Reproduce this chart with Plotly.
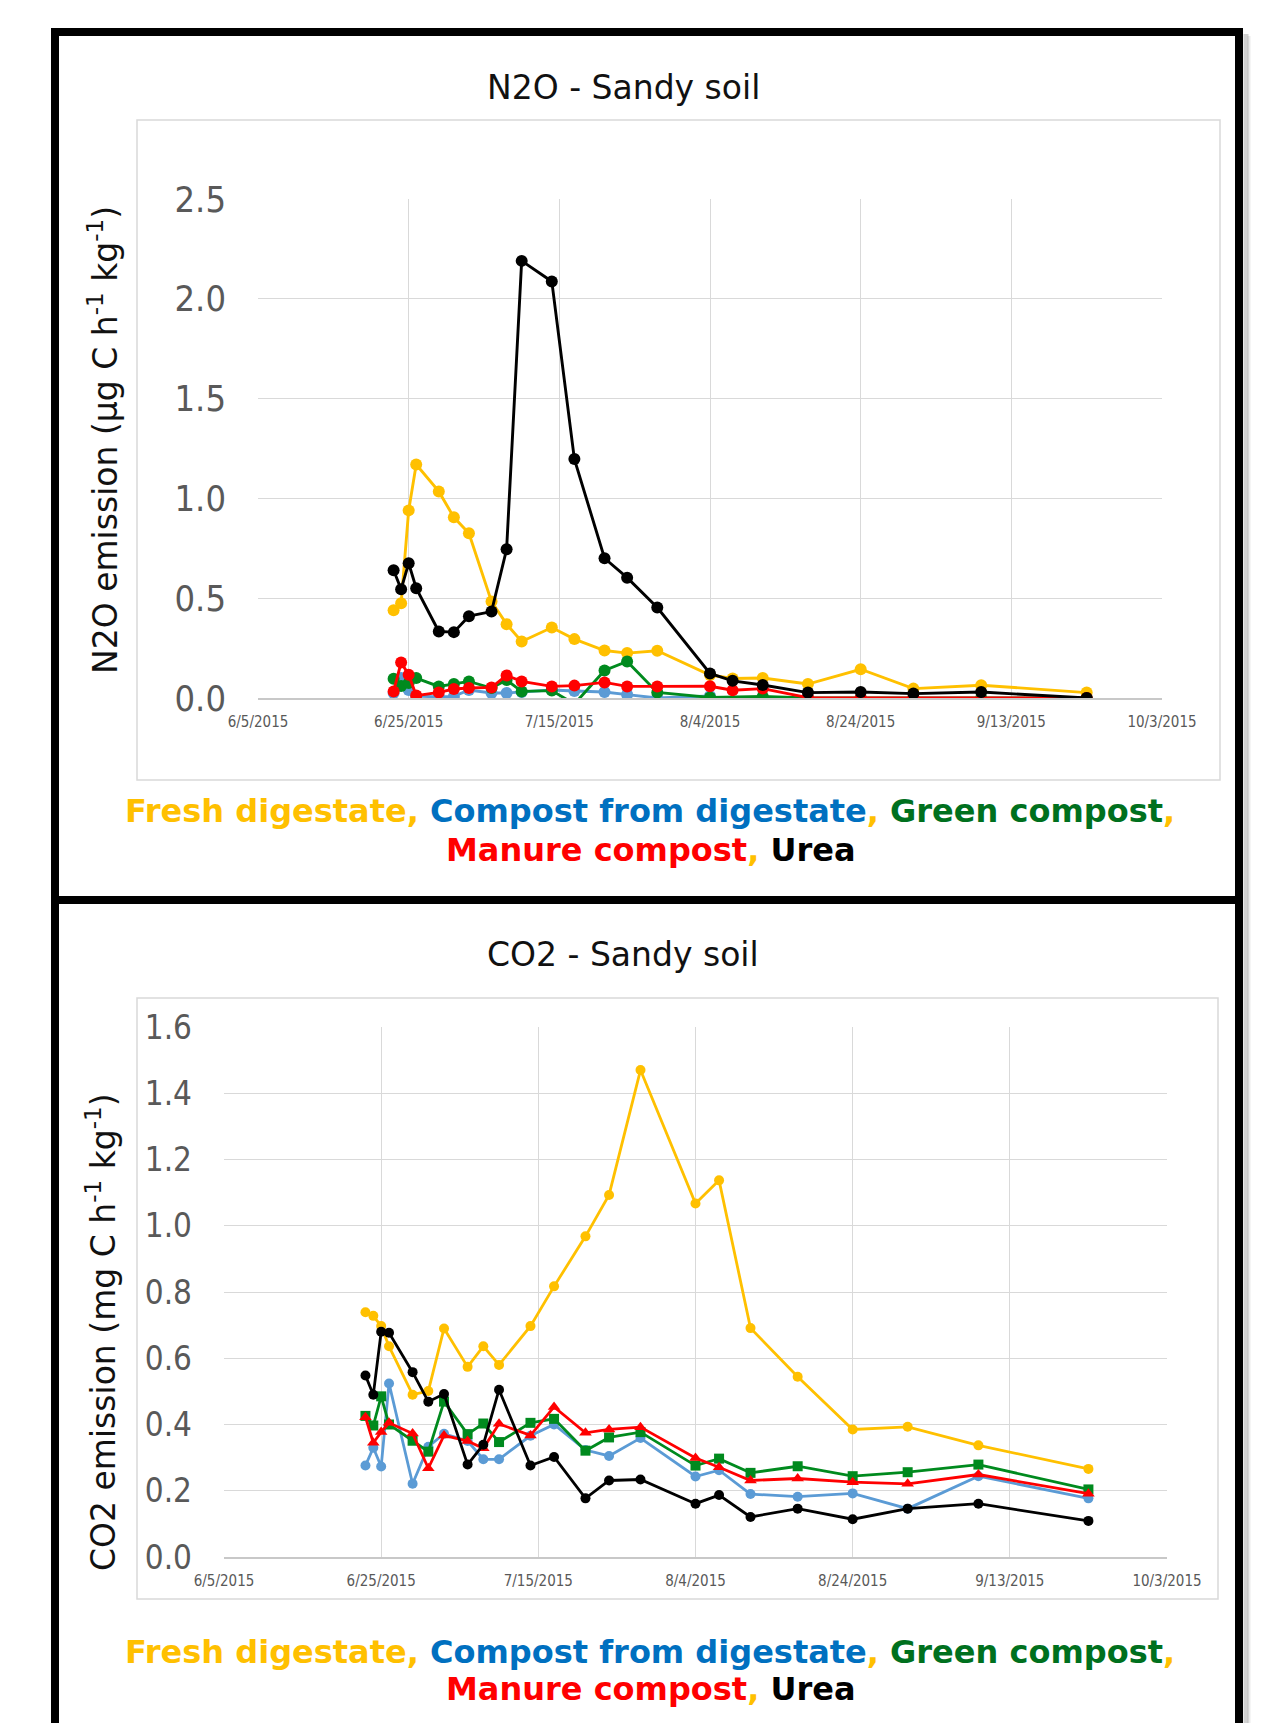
import plotly.graph_objects as go

W, H = 1275, 1723

dates = ["2015-06-23", "2015-06-24", "2015-06-25", "2015-06-26", "2015-06-29",
         "2015-07-01", "2015-07-03", "2015-07-06", "2015-07-08", "2015-07-10",
         "2015-07-14", "2015-07-17", "2015-07-21", "2015-07-24", "2015-07-28",
         "2015-08-04", "2015-08-07", "2015-08-11", "2015-08-17", "2015-08-24",
         "2015-08-31", "2015-09-09", "2015-09-23"]

series_names = ["Fresh digestate", "Compost from digestate", "Green compost",
                "Manure compost", "Urea"]

# N2O - Sandy soil (ug C h-1 kg-1)
n2o_fresh = [0.44, 0.475, 0.94, 1.17, 1.035, 0.905, 0.825, 0.483, 0.37, 0.283,
             0.353, 0.295, 0.238, 0.225, 0.237, 0.115, 0.098, 0.10, 0.07, 0.144,
             0.047, 0.064, 0.027]
n2o_compost_dig = [0.025, 0.10, 0.04, 0.01, 0.005, 0.008, 0.04, 0.025, 0.025, 0.03,
                   0.04, 0.035, 0.03, 0.017, 0.0, 0.01, None, None, None, None,
                   None, None, None]
n2o_green = [0.097, 0.06, 0.075, 0.10, 0.058, 0.07, 0.083, 0.05, 0.09, 0.033,
             0.037, -0.03, 0.138, 0.183, 0.028, 0.003, None, 0.008, 0.0, 0.0,
             0.0, 0.0, 0.0]
n2o_manure = [0.033, 0.178, 0.117, 0.012, 0.028, 0.045, 0.05, 0.053, 0.113, 0.083,
              0.058, 0.062, 0.078, 0.058, 0.058, 0.059, 0.039, 0.047, 0.002, 0.0,
              0.0, None, 0.0]
n2o_urea = [0.64, 0.545, 0.675, 0.55, 0.333, 0.33, 0.41, 0.433, 0.745, 2.19,
            2.087, 1.197, 0.70, 0.603, 0.453, 0.123, 0.086, 0.065, 0.027, 0.03,
            0.022, 0.03, 0.0]

# CO2 - Sandy soil (mg C h-1 kg-1)
co2_fresh = [0.739, 0.728, 0.697, 0.636, 0.49, 0.501, 0.69, 0.574, 0.636, 0.58,
             0.697, 0.817, 0.968, 1.093, 1.47, 1.067, 1.137, 0.691, 0.544, 0.385,
             0.393, 0.337, 0.266]
co2_compost_dig = [0.276, 0.33, 0.273, 0.524, 0.221, 0.333, 0.372, 0.35, 0.295, 0.295,
                   0.366, 0.40, 0.323, 0.305, 0.359, 0.243, 0.262, 0.19, 0.182, 0.192,
                   0.146, 0.244, 0.177]
co2_green = [0.426, 0.397, 0.485, 0.40, 0.351, 0.318, 0.469, 0.371, 0.403, 0.347,
             0.405, 0.417, 0.321, 0.361, 0.377, 0.276, 0.297, 0.254, 0.274, 0.244,
             0.256, 0.279, 0.204]
co2_manure = [0.422, 0.345, 0.377, 0.405, 0.373, 0.268, 0.367, 0.35, 0.328, 0.402,
              0.367, 0.453, 0.375, 0.385, 0.392, 0.299, 0.271, 0.231, 0.237, 0.226,
              0.221, 0.249, 0.191]
co2_urea = [0.548, 0.49, 0.68, 0.677, 0.558, 0.469, 0.492, 0.279, 0.339, 0.505,
            0.276, 0.302, 0.177, 0.231, 0.234, 0.161, 0.187, 0.121, 0.146, 0.114,
            0.146, 0.161, 0.109]

x_tickvals = ["2015-06-05", "2015-06-25", "2015-07-15", "2015-08-04",
              "2015-08-24", "2015-09-13", "2015-10-03"]
x_ticktext = ["6/5/2015", "6/25/2015", "7/15/2015", "8/4/2015",
              "8/24/2015", "9/13/2015", "10/3/2015"]

line_colors = ["#FFC000", "#5B9BD5", "#008A1E", "#FF0000", "#000000"]
text_colors = ["#FFC000", "#0070C0", "#00701E", "#FF0000", "#000000"]
co2_symbols = ["circle", "circle", "square", "triangle-up", "circle"]
co2_sizes = [10, 10, 10, 11, 10]

NARROW = "DejaVu Sans Condensed, Liberation Sans, Arial, sans-serif"
MAIN = "DejaVu Sans, Verdana, sans-serif"


def px(x):
    return x / W


def py(y):
    return 1 - y / H


fig = go.Figure()

n2o_sets = [n2o_fresh, n2o_compost_dig, n2o_green, n2o_manure, n2o_urea]
co2_sets = [co2_fresh, co2_compost_dig, co2_green, co2_manure, co2_urea]

for name, vals, col in zip(series_names, n2o_sets, line_colors):
    fig.add_trace(go.Scatter(
        x=dates, y=vals, name=name, mode="lines+markers", connectgaps=True,
        line=dict(color=col, width=2.9),
        marker=dict(color=col, size=12, symbol="circle"),
        xaxis="x", yaxis="y", showlegend=False, cliponaxis=True))

for name, vals, col, sym, sz in zip(series_names, co2_sets, line_colors,
                                    co2_symbols, co2_sizes):
    fig.add_trace(go.Scatter(
        x=dates, y=vals, name=name, mode="lines+markers", connectgaps=True,
        line=dict(color=col, width=2.8),
        marker=dict(color=col, size=sz, symbol=sym),
        xaxis="x2", yaxis="y2", showlegend=False, cliponaxis=True))

grid = "#D9D9D9"
tick_gray = "#595959"

xcommon = dict(type="date", range=["2015-06-05", "2015-10-03"],
               tickvals=x_tickvals, ticktext=x_ticktext, automargin=False,
               showgrid=True, gridcolor=grid, gridwidth=1,
               showline=True, linecolor="#C8C8C8", linewidth=1.5,
               ticks="", zeroline=False, ticklabelstandoff=9,
               tickfont=dict(family=NARROW, size=15, color=tick_gray))

fig.update_layout(
    template="none",
    width=W, height=H, autosize=False,
    margin=dict(l=0, r=0, t=0, b=0, pad=0, autoexpand=False),
    paper_bgcolor="white", plot_bgcolor="white",
    showlegend=False,
    xaxis=dict(domain=[px(258), px(1162)], anchor="y", **xcommon),
    yaxis=dict(domain=[py(698), py(199)], anchor="x", range=[0, 2.5], dtick=0.5,
               tickformat=".1f", showgrid=True, gridcolor=grid, zeroline=False,
               showline=False, ticks="", ticklabelstandoff=31, automargin=False,
               tickfont=dict(family=NARROW, size=36, color=tick_gray)),
    xaxis2=dict(domain=[px(224), px(1167)], anchor="y2", **xcommon),
    yaxis2=dict(domain=[py(1557), py(1027)], anchor="x2", range=[0, 1.6], dtick=0.2,
                tickformat=".1f", showgrid=True, gridcolor=grid, zeroline=False,
                showline=False, ticks="", ticklabelstandoff=31, automargin=False,
                tickfont=dict(family=NARROW, size=33, color=tick_gray)),
)

shapes = []
# chart-area light boxes
shapes.append(dict(type="rect", xref="paper", yref="paper",
                   x0=px(137), x1=px(1220), y0=py(780), y1=py(120),
                   line=dict(color="#D9D9D9", width=1.5), layer="below"))
shapes.append(dict(type="rect", xref="paper", yref="paper",
                   x0=px(137), x1=px(1218), y0=py(1599), y1=py(998),
                   line=dict(color="#D9D9D9", width=1.5), layer="below"))
# shadow on right of outer border
shapes.append(dict(type="line", xref="paper", yref="paper",
                   x0=px(1246), x1=px(1246), y0=0, y1=py(34),
                   line=dict(color="rgba(0,0,0,0.18)", width=5)))
shapes.append(dict(type="line", xref="paper", yref="paper",
                   x0=px(1249), x1=px(1249), y0=0, y1=py(36),
                   line=dict(color="rgba(0,0,0,0.08)", width=3)))
# heavy black borders
bk = dict(color="black", width=8)
shapes.append(dict(type="line", xref="paper", yref="paper",
                   x0=px(51), x1=px(1243), y0=py(32), y1=py(32), line=bk))
shapes.append(dict(type="line", xref="paper", yref="paper",
                   x0=px(55), x1=px(55), y0=0, y1=py(28), line=bk))
shapes.append(dict(type="line", xref="paper", yref="paper",
                   x0=px(1239), x1=px(1239), y0=0, y1=py(28), line=bk))
shapes.append(dict(type="line", xref="paper", yref="paper",
                   x0=px(51), x1=px(1243), y0=py(900), y1=py(900), line=bk))
fig.update_layout(shapes=shapes)

ann = []
ann.append(dict(text="N2O - Sandy soil", x=px(623), y=py(88), xref="paper", yref="paper",
                showarrow=False, xanchor="center", yanchor="middle",
                font=dict(family=MAIN, size=33, color="#111111")))
ann.append(dict(text="CO2 - Sandy soil", x=px(623), y=py(954), xref="paper", yref="paper",
                showarrow=False, xanchor="center", yanchor="middle",
                font=dict(family=MAIN, size=33, color="#111111")))
ann.append(dict(text="N2O emission (μg C h<sup>-1</sup> kg<sup>-1</sup>)",
                x=px(104), y=py(440), xref="paper", yref="paper", textangle=-90,
                showarrow=False, xanchor="center", yanchor="middle",
                font=dict(family=MAIN, size=33, color="#111111")))
ann.append(dict(text="CO2 emission (mg C h<sup>-1</sup> kg<sup>-1</sup>)",
                x=px(101), y=py(1332), xref="paper", yref="paper", textangle=-90,
                showarrow=False, xanchor="center", yanchor="middle",
                font=dict(family=MAIN, size=33, color="#111111")))


def span(t, c):
    return f"<span style='color:{c}'>{t}</span>"


comma = span(",", text_colors[0])
line1 = ("<b>" + span(series_names[0], text_colors[0]) + comma + " "
         + span(series_names[1], text_colors[1]) + comma + " "
         + span(series_names[2], text_colors[2]) + comma + "</b>")
line2 = ("<b>" + span(series_names[3], text_colors[3]) + comma + " "
         + span(series_names[4], text_colors[4]) + "</b>")

for y1, y2 in [(811, 850), (1652, 1689)]:
    ann.append(dict(text=line1, x=px(650), y=py(y1), xref="paper", yref="paper",
                    showarrow=False, xanchor="center", yanchor="middle",
                    font=dict(family=MAIN, size=32)))
    ann.append(dict(text=line2, x=px(651), y=py(y2), xref="paper", yref="paper",
                    showarrow=False, xanchor="center", yanchor="middle",
                    font=dict(family=MAIN, size=32)))

fig.update_layout(annotations=ann)

fig.write_html("out.html")
